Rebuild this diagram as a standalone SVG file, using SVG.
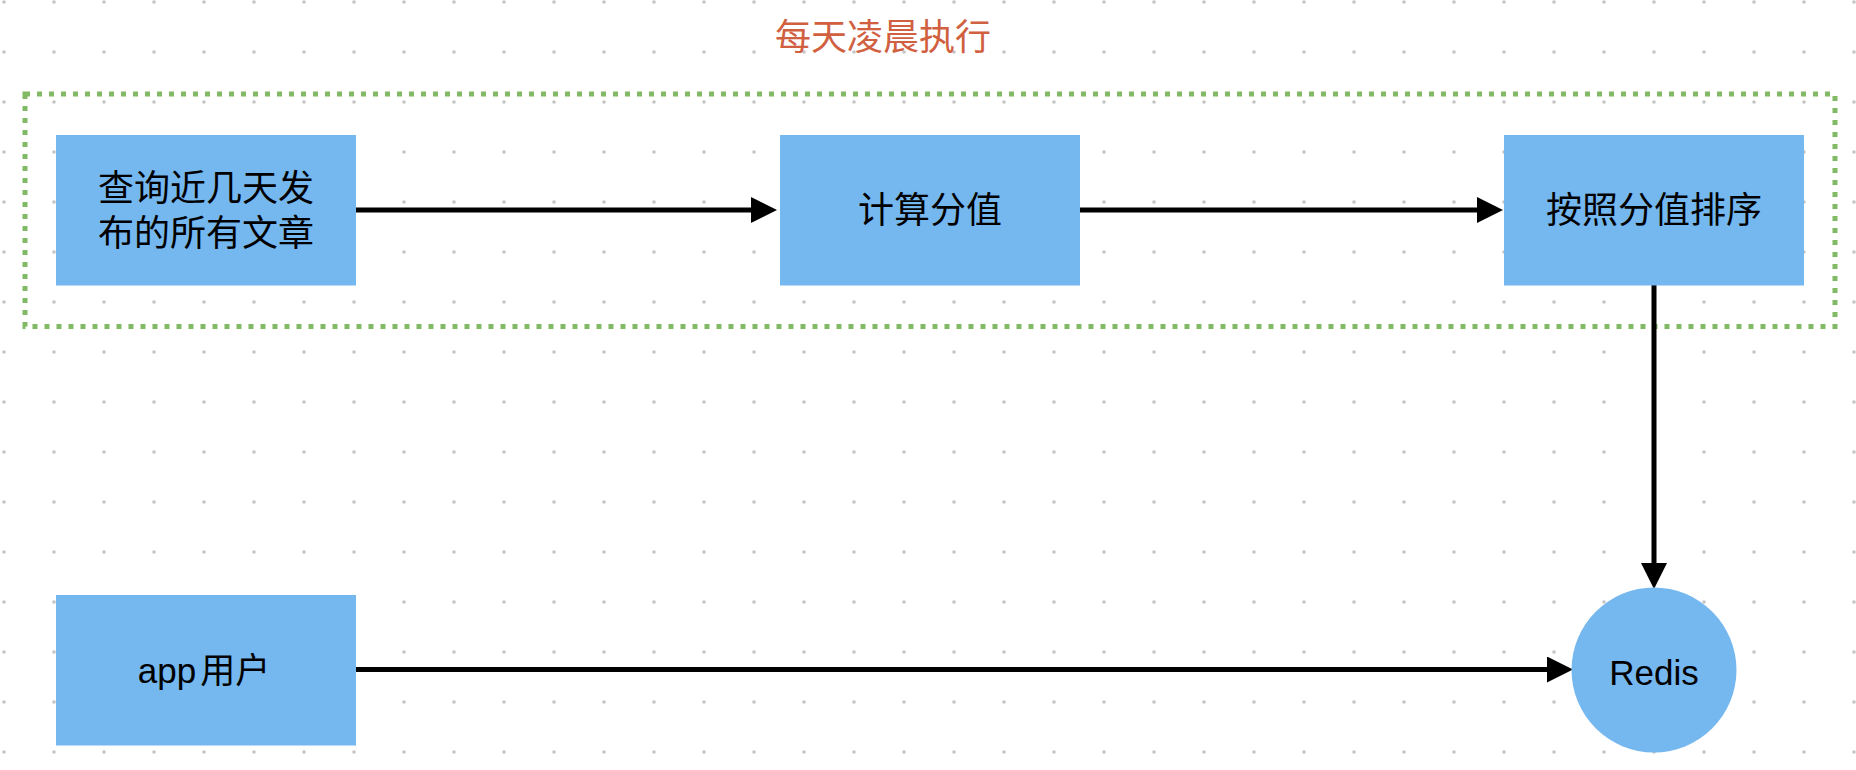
<svg xmlns="http://www.w3.org/2000/svg" width="1856" height="770" viewBox="0 0 1856 770">
  <style>
    .box { fill: #75b7ef; }
    .lbl { font-family: "Noto Sans CJK SC", "Liberation Sans", sans-serif; font-size: 36px; fill: #000; text-anchor: middle; }
    .lat { font-family: "Liberation Sans", "Noto Sans CJK SC", sans-serif; font-size: 35px; fill: #000; text-anchor: middle; }
    .edge { stroke: #000; stroke-width: 5; fill: none; marker-end: url(#arrow); }
  </style>
  <defs>
    <pattern id="dots" x="0" y="0" width="50" height="50" patternUnits="userSpaceOnUse">
      <circle cx="4" cy="2" r="1.8" fill="#c4c4c4"/>
    </pattern>
    <marker id="arrow" markerUnits="userSpaceOnUse" markerWidth="26" markerHeight="26" refX="0" refY="13" orient="auto">
      <path d="M0,0 L26,13 L0,26 z" fill="#000"/>
    </marker>
  </defs>
  <rect x="0" y="0" width="1856" height="770" fill="#fff"/>
  <rect x="0" y="0" width="1856" height="770" fill="url(#dots)"/>

  <g id="group-nightly">
    <rect x="25" y="94" width="1810" height="232.5" fill="none" stroke="#82b965" stroke-width="5" stroke-dasharray="5 7"/>
    <text class="lbl" x="883" y="50" style="fill:#d0603f">每天凌晨执行</text>
  </g>

  <g id="connectors">
    <line class="edge" x1="356" y1="210" x2="751" y2="210"/>
    <line class="edge" x1="1080" y1="210" x2="1477" y2="210"/>
    <line class="edge" x1="1654" y1="285" x2="1654" y2="563"/>
    <line class="edge" x1="356" y1="669.5" x2="1547" y2="669.5"/>
  </g>

  <g id="node-query">
    <rect class="box" x="56" y="135" width="300" height="150.5"/>
    <text class="lbl" x="206" y="201">查询近几天发</text>
    <text class="lbl" x="206" y="246">布的所有文章</text>
  </g>
  <g id="node-score">
    <rect class="box" x="780" y="135" width="300" height="150.5"/>
    <text class="lbl" x="930" y="223">计算分值</text>
  </g>
  <g id="node-sort">
    <rect class="box" x="1504" y="135" width="300" height="150.5"/>
    <text class="lbl" x="1654" y="223">按照分值排序</text>
  </g>
  <g id="node-app">
    <rect class="box" x="56" y="595" width="300" height="150.5"/>
    <text class="lat" x="204" y="683">app<tspan dx="4">用户</tspan></text>
  </g>
  <g id="node-redis">
    <circle class="box" cx="1654" cy="670" r="82.5"/>
    <text class="lat" x="1654" y="685">Redis</text>
  </g>
</svg>
